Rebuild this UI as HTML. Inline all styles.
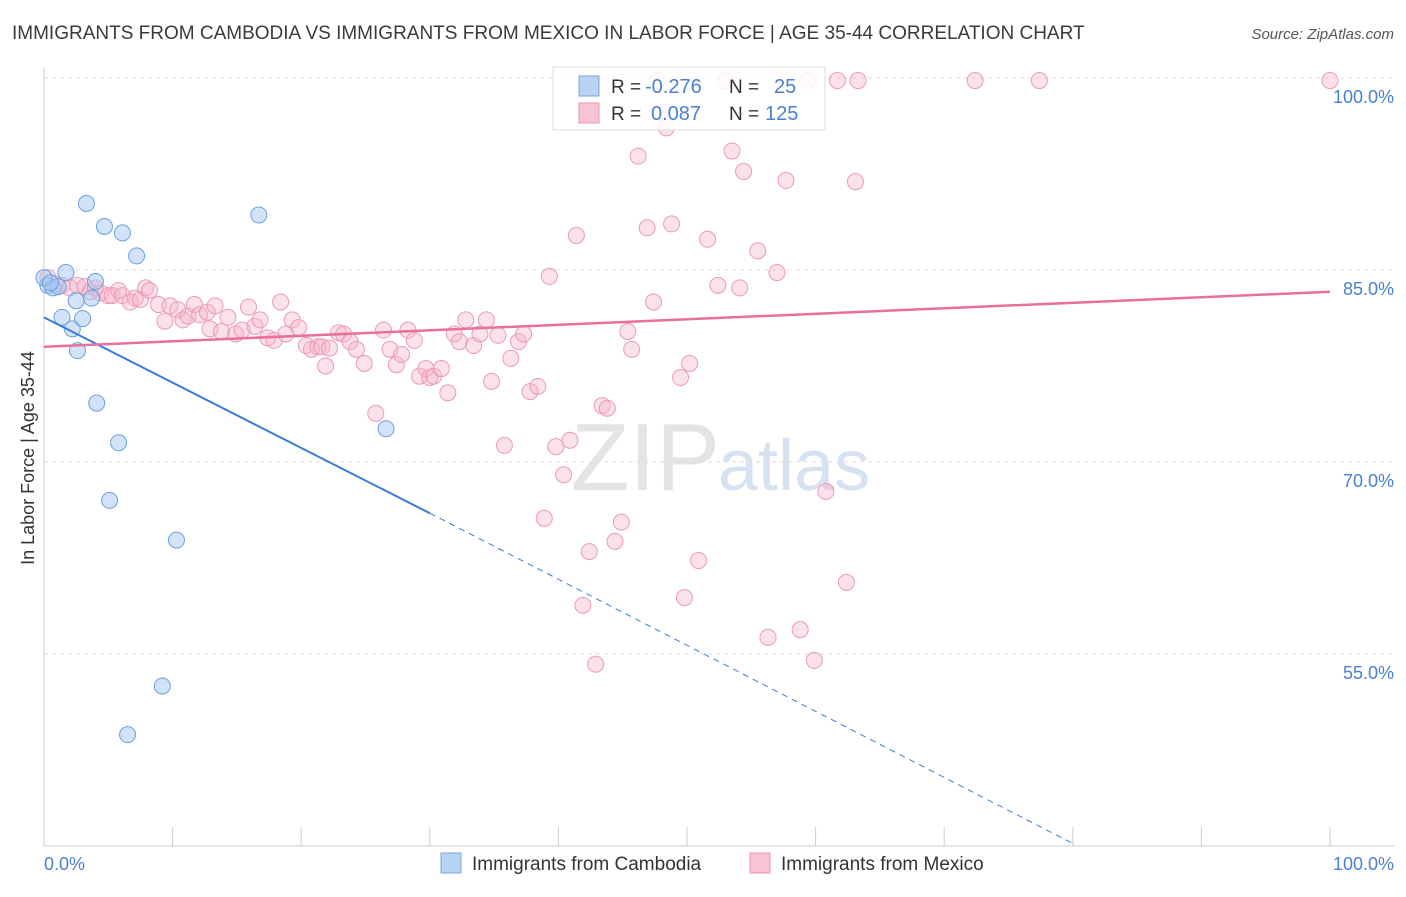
<!DOCTYPE html>
<html><head><meta charset="utf-8"><style>
body{margin:0;background:#fff;font-family:"Liberation Sans",sans-serif;}
svg text{font-family:"Liberation Sans",sans-serif;}
</style></head><body>
<svg id="c" width="1406" height="892" xmlns="http://www.w3.org/2000/svg">
<text x="12" y="39" font-size="19" fill="#3a3a3a">IMMIGRANTS FROM CAMBODIA VS IMMIGRANTS FROM MEXICO IN LABOR FORCE | AGE 35-44 CORRELATION CHART</text>
<text x="1394" y="39" font-size="15" fill="#555" text-anchor="end" font-style="italic">Source: ZipAtlas.com</text>
<text x="720" y="490" font-size="96" fill="#e4e4e4" text-anchor="end" font-family="Liberation Serif">ZIP</text>
<text x="718" y="490" font-size="72" fill="#d6e2f2">atlas</text>
<g id="grid"></g><g id="marks"></g>
<text transform="translate(34,458) rotate(-90)" font-size="18" fill="#333" text-anchor="middle">In Labor Force | Age 35-44</text>
<text x="44" y="870" font-size="18" fill="#4a7fd4">0.0%</text>
<text x="1394" y="870" font-size="18" fill="#4a7fd4" text-anchor="end">100.0%</text>
<g>
<rect x="553" y="67" width="272" height="63" fill="#fff" fill-opacity="0.85" stroke="#ddd"/>
<rect x="579" y="76" width="20" height="20" fill="#b9d3f3" stroke="#7aa6e0"/>
<rect x="579" y="103" width="20" height="20" fill="#f8c3d4" stroke="#e996b1"/>
<text x="611" y="93" font-size="19" fill="#333">R =</text>
<text x="645" y="93" font-size="20" fill="#4a7fd4">-0.276</text>
<text x="729" y="93" font-size="19" fill="#333">N =</text>
<text x="774" y="93" font-size="20" fill="#4a7fd4">25</text>
<text x="611" y="120" font-size="19" fill="#333">R =</text>
<text x="651" y="120" font-size="20" fill="#4a7fd4">0.087</text>
<text x="729" y="120" font-size="19" fill="#333">N =</text>
<text x="765" y="120" font-size="20" fill="#4a7fd4">125</text>
</g>
<g>
<rect x="441" y="853" width="20" height="20" fill="#b9d3f3" stroke="#7aa6e0"/>
<text x="472" y="870" font-size="19" fill="#333">Immigrants from Cambodia</text>
<rect x="750" y="853" width="20" height="20" fill="#f8c3d4" stroke="#e996b1"/>
<text x="781" y="870" font-size="19" fill="#333">Immigrants from Mexico</text>
</g>
</svg>
<script>
const yTicks=[100,85,70,55];
const xTicks=[0,10,20,30,40,50,60,70,80,90,100];
const cambodiaX=[0.3,0.7,1.1,1.7,1.4,2.2,2.5,2.6,3.0,3.3,3.7,4.0,4.1,4.7,5.1,5.8,6.1,6.5,7.2,9.2,10.3,16.7,26.6,0.0,0.5];
const cambodiaY=[83.8,83.6,83.7,84.8,81.3,80.4,82.6,78.7,81.2,90.2,82.8,84.1,74.6,88.4,67.0,71.5,87.9,48.7,86.1,52.5,63.9,89.3,72.6,84.4,84.0];
const mexicoPts=[[48,278],[55,284],[62,285],[70,288],[78,286],[85,287],[90,292],[95,288],[100,293],[108,296],[112,295],[118,290],[123,296],[130,302],[135,298],[140,300],[145,288],[150,290],[158,305],[165,321],[170,306],[178,310],[183,320],[188,316],[195,305],[200,315],[207,312],[210,329],[215,306],[222,331],[228,318],[236,334],[242,330],[248,307],[255,326],[260,320],[268,338],[274,340],[280,302],[286,334],[292,320],[298,328],[306,345],[312,350],[318,347],[322,347],[326,366],[330,348],[338,333],[344,334],[350,342],[356,350],[364,364],[376,413],[384,330],[390,350],[396,365],[402,354],[408,330],[414,340],[420,376],[426,368],[430,378],[434,376],[442,369],[448,393],[454,334],[460,342],[466,320],[474,346],[480,334],[486,320],[492,382],[498,335],[505,445],[511,358],[518,342],[524,334],[530,392],[538,387],[544,518],[549,277],[556,447],[564,475],[570,440],[576,236],[583,605],[589,551],[596,664],[602,406],[607,408],[615,541],[621,522],[628,331],[632,349],[638,156],[647,228],[654,302],[658,80],[666,128],[672,224],[680,377],[684,598],[690,364],[698,561],[708,239],[718,286],[726,80],[732,151],[740,288],[744,171],[758,251],[768,638],[777,273],[786,180],[800,630],[808,80],[814,661],[826,492],[838,80],[846,582],[855,182],[858,80],[975,80],[1040,80],[1330,80]];
const mexicoX=mexicoPts.map(p=>+((p[0]-44)/12.86).toFixed(1));
const mexicoY=mexicoPts.map(p=>+(100-(p[1]-78)/12.8).toFixed(1));
const cambodiaTrend=[[0,81.3],[30,66.0],[80,40.2]];
const mexicoTrend=[[0,79.0],[100,83.3]];
const X=v=>44+v*12.86, Y=v=>78+(100-v)*12.8;
const NS="http://www.w3.org/2000/svg";
function mk(t,a,p){const e=document.createElementNS(NS,t);for(const k in a)e.setAttribute(k,a[k]);p.appendChild(e);return e;}
const g=document.getElementById('grid'),m=document.getElementById('marks');
yTicks.forEach(v=>{
 const l=mk('line',{x1:44,x2:1394,y1:Y(v),y2:Y(v),stroke:'#ddd','stroke-dasharray':'4,4'},g);
 
 
 const t=mk('text',{x:1394,y:Y(v)+25,'font-size':18,fill:'#4a7fd4','text-anchor':'end'},g);t.textContent=v.toFixed(1)+'%';
 
 
});
mk('line',{x1:44,x2:44,y1:68,y2:846,stroke:'#ccc'},g);
mk('line',{x1:44,x2:1394,y1:846,y2:846,stroke:'#ccc'},g);
xTicks.forEach(v=>{const l=mk('line',{x1:X(v),x2:X(v),y1:827,y2:846,stroke:'#ccc'},g);
 
 });
mexicoX.forEach((x,i)=>{const c=mk('circle',{cx:X(x),cy:Y(mexicoY[i]),r:8,fill:'rgba(245,180,204,0.4)',stroke:'#eb9ab5','stroke-width':1},m);
 
 });
cambodiaX.forEach((x,i)=>{const c=mk('circle',{cx:X(x),cy:Y(cambodiaY[i]),r:8,fill:'rgba(168,200,240,0.5)',stroke:'#6a9fe0','stroke-width':1},m);
 
 });
let l=mk('line',{x1:X(cambodiaTrend[0][0]),y1:Y(cambodiaTrend[0][1]),x2:X(cambodiaTrend[1][0]),y2:Y(cambodiaTrend[1][1]),stroke:'#3a7ad8','stroke-width':2},m);


l=mk('line',{x1:X(cambodiaTrend[1][0]),y1:Y(cambodiaTrend[1][1]),x2:X(cambodiaTrend[2][0]),y2:Y(cambodiaTrend[2][1]),stroke:'#3a7ad8','stroke-width':1,'stroke-dasharray':'6,5'},m);


l=mk('line',{x1:X(mexicoTrend[0][0]),y1:Y(mexicoTrend[0][1]),x2:X(mexicoTrend[1][0]),y2:Y(mexicoTrend[1][1]),stroke:'#e8709a','stroke-width':2.5},m);


</script>
</body></html>
